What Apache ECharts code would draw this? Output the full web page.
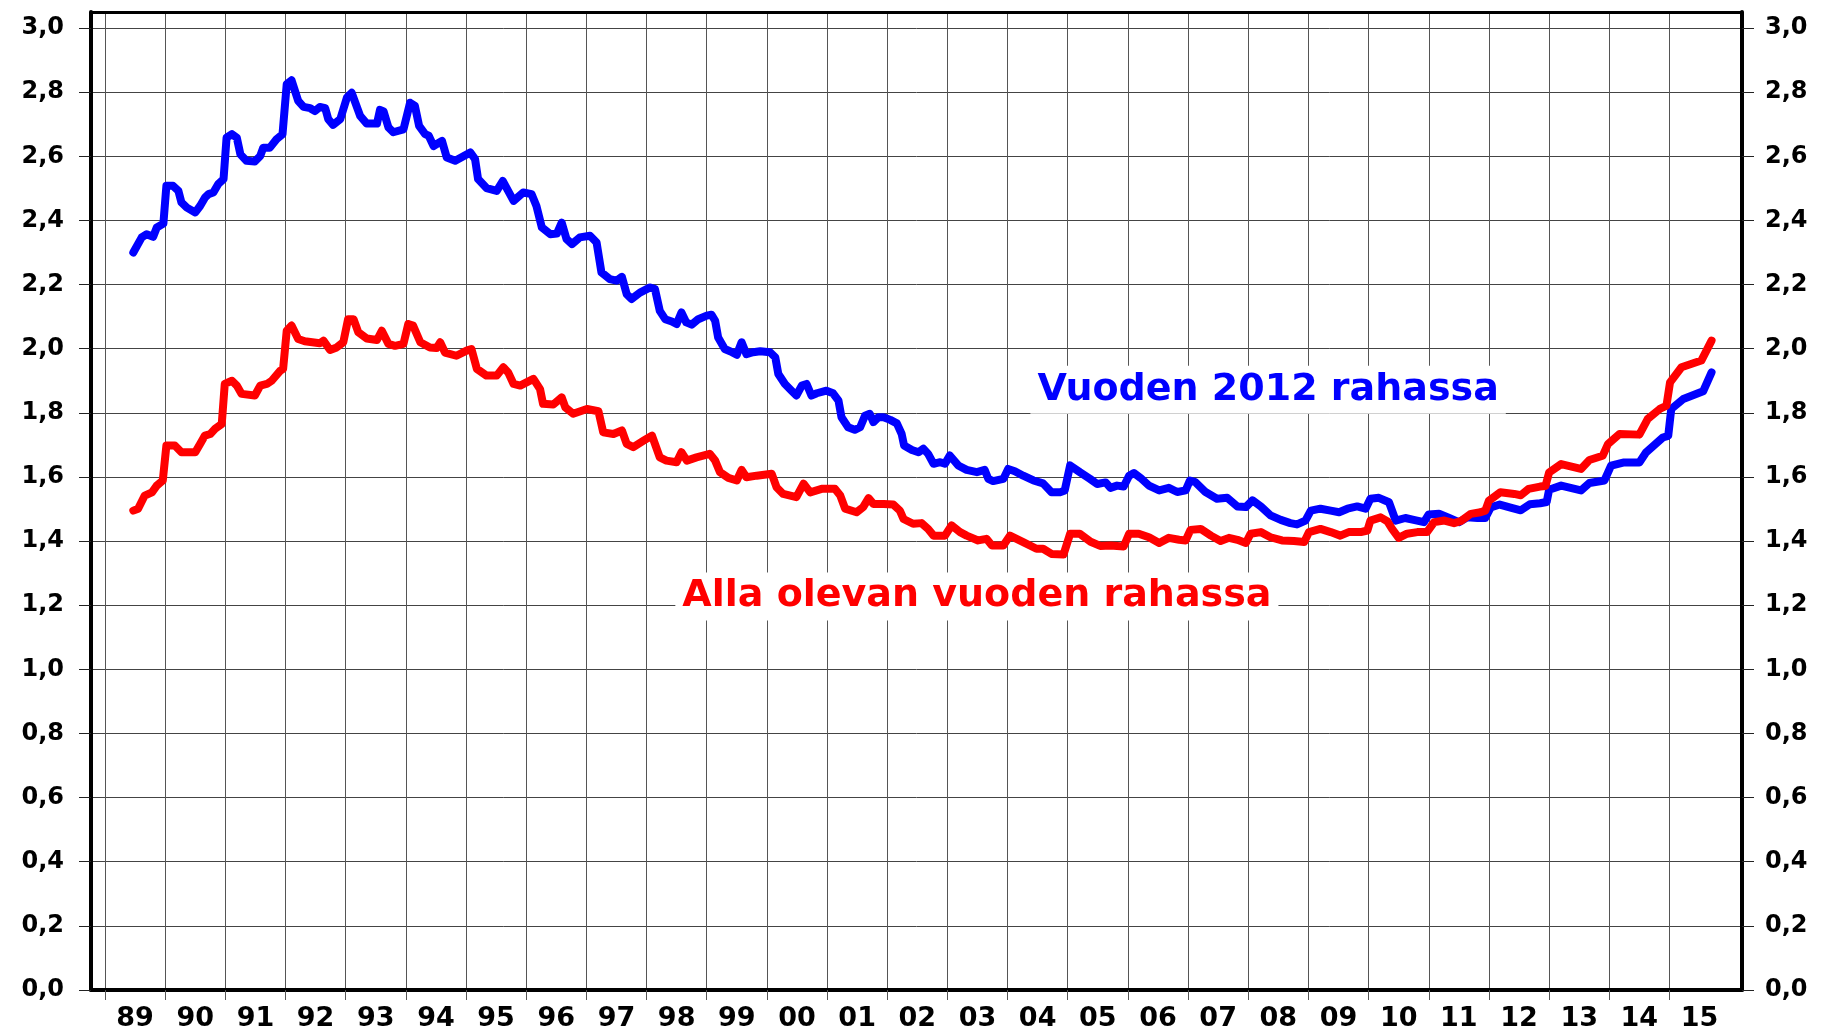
<!DOCTYPE html>
<html><head><meta charset="utf-8">
<script src="https://cdn.jsdelivr.net/npm/echarts@6/dist/echarts.min.js"></script>
<style>html,body{margin:0;padding:0;background:#fff}#c{width:1824px;height:1033px}</style>
</head><body><div id="c"></div>
<script>
// ---------- DATA ----------
const yearStarts = [1989,1990,1991,1992,1993,1994,1995,1996,1997,1998,1999,2000,2001,2002,2003,2004,2005,2006,2007,2008,2009,2010,2011,2012,2013,2014,2015];
const yearLabels = ['89','90','91','92','93','94','95','96','97','98','99','00','01','02','03','04','05','06','07','08','09','10','11','12','13','14','15'];
const yTickValues = [0,0.2,0.4,0.6,0.8,1.0,1.2,1.4,1.6,1.8,2.0,2.2,2.4,2.6,2.8,3.0];

const blueName = 'Vuoden 2012 rahassa';
const redName = 'Alla olevan vuoden rahassa';

// decimal years
const blueX = [1989.47,1989.61,1989.69,1989.80,1989.86,1989.97,1990.02,1990.13,1990.22,1990.27,1990.36,1990.50,1990.58,1990.66,1990.72,1990.80,1990.88,1990.97,
1991.02,1991.11,1991.19,1991.25,1991.35,1991.49,1991.58,1991.63,1991.74,1991.85,1991.95,1992.02,1992.10,1992.21,1992.30,1992.41,1992.49,1992.57,1992.66,1992.71,1992.79,1992.91,
1993.02,1993.10,1993.24,1993.35,1993.52,1993.57,1993.63,1993.71,1993.79,1993.96,1994.07,1994.15,1994.22,1994.32,1994.38,1994.46,1994.60,1994.68,1994.82,
1995.07,1995.15,1995.20,1995.34,1995.51,1995.61,1995.70,1995.79,1995.95,1996.09,1996.17,1996.26,1996.40,1996.51,1996.59,1996.67,1996.76,1996.89,
1997.06,1997.17,1997.25,1997.39,1997.50,1997.59,1997.67,1997.75,1997.89,1998.06,1998.14,1998.22,1998.31,1998.42,1998.50,1998.58,1998.66,1998.75,1998.86,
1999.00,1999.08,1999.14,1999.19,1999.30,1999.42,1999.50,1999.58,1999.66,1999.77,1999.89,2000.05,2000.14,2000.19,2000.30,2000.41,2000.49,2000.58,2000.66,2000.74,2000.83,2000.99,
2001.10,2001.19,2001.24,2001.35,2001.46,2001.55,2001.63,2001.71,2001.77,2001.85,2001.94,2002.05,2002.16,2002.24,2002.28,2002.41,2002.52,2002.60,2002.68,2002.77,2002.88,2002.96,
2003.04,2003.18,2003.32,2003.49,2003.62,2003.68,2003.76,2003.93,2004.01,2004.12,2004.26,2004.43,2004.59,2004.73,2004.87,2004.95,
2005.04,2005.20,2005.37,2005.49,2005.63,2005.71,2005.82,2005.93,2006.02,2006.10,2006.21,2006.35,2006.52,2006.68,2006.82,2006.96,
2007.03,2007.12,2007.29,2007.48,2007.65,2007.82,2007.96,2008.07,2008.21,2008.37,2008.54,2008.70,2008.81,2008.95,
2009.04,2009.20,2009.37,2009.51,2009.65,2009.81,2009.95,2010.03,2010.17,2010.34,2010.39,2010.45,2010.61,2010.75,2010.92,
2011.00,2011.17,2011.34,2011.50,2011.64,2011.81,2011.94,2012.03,2012.18,2012.39,2012.53,2012.68,2012.85,2012.96,
2013.00,2013.20,2013.53,2013.67,2013.92,2014.03,2014.23,2014.50,2014.61,2014.89,2014.98,2015.03,2015.23,2015.56,2015.70];
const blueY = [2.300,2.347,2.357,2.349,2.378,2.390,2.508,2.508,2.492,2.456,2.440,2.425,2.445,2.471,2.482,2.487,2.513,2.529,
2.658,2.669,2.658,2.606,2.586,2.584,2.601,2.627,2.627,2.653,2.669,2.825,2.837,2.773,2.754,2.750,2.741,2.754,2.750,2.716,2.698,2.716,
2.783,2.798,2.726,2.702,2.702,2.745,2.740,2.690,2.675,2.684,2.767,2.757,2.695,2.669,2.664,2.632,2.648,2.596,2.586,
2.612,2.591,2.529,2.501,2.492,2.523,2.492,2.461,2.487,2.482,2.445,2.378,2.357,2.359,2.393,2.342,2.326,2.347,
2.352,2.331,2.238,2.217,2.212,2.224,2.170,2.155,2.175,2.191,2.186,2.118,2.092,2.085,2.077,2.113,2.082,2.075,2.092,
2.103,2.106,2.087,2.035,1.999,1.989,1.981,2.020,1.983,1.989,1.992,1.989,1.973,1.921,1.890,1.869,1.854,1.885,1.890,1.854,1.861,1.869,
1.861,1.838,1.786,1.755,1.747,1.755,1.791,1.797,1.771,1.786,1.786,1.778,1.767,1.734,1.698,1.684,1.677,1.688,1.672,1.641,1.646,1.641,
1.667,1.636,1.622,1.615,1.622,1.594,1.587,1.594,1.625,1.618,1.604,1.589,1.580,1.552,1.552,1.558,
1.636,1.615,1.594,1.578,1.583,1.566,1.573,1.570,1.604,1.612,1.597,1.573,1.558,1.566,1.553,1.558,
1.589,1.584,1.553,1.532,1.535,1.508,1.506,1.527,1.508,1.480,1.466,1.456,1.452,1.464,
1.495,1.501,1.495,1.490,1.501,1.508,1.501,1.532,1.535,1.521,1.495,1.464,1.472,1.466,1.459,
1.483,1.485,1.472,1.459,1.474,1.472,1.472,1.505,1.514,1.503,1.496,1.515,1.518,1.522,
1.560,1.573,1.558,1.581,1.589,1.635,1.645,1.645,1.676,1.723,1.728,1.812,1.843,1.867,1.926];

const redX = [1989.47,1989.55,1989.66,1989.78,1989.86,1989.96,1990.02,1990.16,1990.27,1990.50,1990.58,1990.66,1990.75,1990.83,1990.94,
1990.99,1991.11,1991.19,1991.27,1991.49,1991.58,1991.69,1991.77,1991.91,1991.96,1992.02,1992.10,1992.21,1992.32,1992.57,1992.63,1992.74,1992.85,1992.96,
1993.04,1993.13,1993.21,1993.35,1993.52,1993.60,1993.71,1993.82,1993.96,1994.04,1994.12,1994.24,1994.40,1994.51,1994.57,1994.65,1994.84,
1995.01,1995.09,1995.18,1995.34,1995.51,1995.62,1995.70,1995.79,1995.90,1996.12,1996.23,1996.28,1996.45,1996.59,1996.65,1996.78,
1997.01,1997.20,1997.28,1997.45,1997.59,1997.67,1997.78,1997.95,1998.09,1998.22,1998.33,1998.50,1998.58,1998.67,1998.83,
1999.05,1999.14,1999.22,1999.36,1999.50,1999.58,1999.66,1999.83,2000.08,2000.16,2000.27,2000.49,2000.61,2000.72,2000.91,
2001.13,2001.22,2001.30,2001.49,2001.60,2001.69,2001.77,2001.94,2002.10,2002.21,2002.27,2002.43,2002.57,2002.68,2002.77,2002.96,
2003.07,2003.21,2003.32,2003.51,2003.65,2003.74,2003.93,2004.04,2004.26,2004.48,2004.59,2004.73,2004.93,
2005.04,2005.20,2005.38,2005.54,2005.71,2005.93,2006.02,2006.18,2006.35,2006.52,2006.68,2006.85,2006.96,
2007.04,2007.21,2007.38,2007.54,2007.68,2007.82,2007.96,2008.04,2008.21,2008.37,2008.56,2008.76,2008.93,
2009.01,2009.20,2009.37,2009.53,2009.67,2009.87,2009.98,2010.03,2010.20,2010.31,2010.39,2010.50,2010.64,2010.81,2010.97,
2011.09,2011.26,2011.42,2011.53,2011.70,2011.86,2011.94,2012.00,2012.19,2012.42,2012.53,2012.66,2012.85,2012.94,
2013.00,2013.20,2013.53,2013.67,2013.89,2013.98,2014.17,2014.50,2014.64,2014.84,2014.95,2015.01,2015.20,2015.53,2015.70];
const redY = [1.495,1.501,1.542,1.552,1.573,1.589,1.698,1.698,1.677,1.677,1.703,1.729,1.734,1.750,1.765,
1.890,1.900,1.885,1.859,1.854,1.885,1.890,1.900,1.931,1.937,2.056,2.072,2.030,2.023,2.017,2.025,1.996,2.004,2.020,
2.092,2.092,2.051,2.032,2.027,2.056,2.015,2.009,2.015,2.077,2.072,2.020,2.004,2.002,2.020,1.988,1.978,
1.994,1.999,1.937,1.916,1.916,1.942,1.926,1.890,1.885,1.906,1.874,1.828,1.826,1.848,1.817,1.797,
1.812,1.805,1.739,1.734,1.745,1.703,1.693,1.713,1.729,1.661,1.651,1.646,1.677,1.651,1.661,
1.672,1.651,1.615,1.597,1.589,1.622,1.599,1.604,1.610,1.568,1.547,1.537,1.579,1.552,1.563,
1.563,1.542,1.501,1.490,1.506,1.534,1.516,1.516,1.514,1.495,1.469,1.454,1.456,1.438,1.417,1.417,
1.449,1.428,1.417,1.402,1.407,1.386,1.386,1.417,1.397,1.376,1.376,1.360,1.358,
1.423,1.423,1.398,1.385,1.386,1.383,1.423,1.423,1.412,1.394,1.410,1.404,1.402,
1.435,1.438,1.417,1.400,1.410,1.404,1.394,1.423,1.428,1.412,1.402,1.400,1.397,
1.428,1.438,1.428,1.417,1.428,1.428,1.433,1.464,1.474,1.462,1.438,1.410,1.423,1.428,1.428,
1.459,1.464,1.456,1.462,1.485,1.490,1.495,1.526,1.552,1.547,1.543,1.563,1.570,1.572,
1.614,1.640,1.625,1.653,1.666,1.703,1.734,1.732,1.781,1.812,1.822,1.895,1.942,1.963,2.025];

// annotation anchor points (data coordinates)
const blueLabelAt = [2008.33, 1.872];
const redLabelAt = [2003.49, 1.227];

// ---------- CHART ----------
const FONT = 'DejaVu Sans';
const xMin = 1988.767, xMax = 2016.206;
const chart = echarts.init(document.getElementById('c'), null, {renderer: 'canvas'});

function pairs(xs, ys) { return xs.map((x, i) => [x, ys[i]]); }
function annot(text, at, color) {
  return {
    symbol: 'rect', symbolSize: [1, 1], silent: true,
    itemStyle: {color: 'rgba(0,0,0,0)'},
    label: {
      show: true, position: 'inside', formatter: text,
      fontFamily: FONT, fontSize: 38, fontWeight: 'bold', color: color,
      backgroundColor: '#ffffff', padding: [0, 7], lineHeight: 48
    },
    data: [{coord: at}]
  };
}
const yFmt = v => v.toFixed(1).replace('.', ',');

chart.setOption({
  animation: false,
  backgroundColor: '#ffffff',
  grid: {left: 91, right: 82, top: 12, bottom: 43, containLabel: false},
  xAxis: [{
    type: 'value', min: xMin, max: xMax, position: 'bottom',
    axisLine: {show: true, onZero: false, lineStyle: {color: '#000', width: 4}},
    axisTick: {show: true, customValues: yearStarts, length: 10, lineStyle: {color: '#555', width: 1}},
    axisLabel: {
      customValues: yearStarts.map(y => y + 0.5),
      formatter: v => yearLabels[yearStarts.indexOf(Math.floor(v))],
      fontFamily: FONT, fontSize: 27, fontWeight: 'bold', color: '#000', margin: 15
    },
    splitLine: {show: true, lineStyle: {color: '#555', width: 1}}
  }, {
    type: 'value', min: xMin, max: xMax, position: 'top',
    axisLine: {show: true, onZero: false, lineStyle: {color: '#000', width: 3}},
    axisTick: {show: false}, axisLabel: {show: false}, splitLine: {show: false}
  }],
  yAxis: [{
    type: 'value', min: 0, max: 3.05, position: 'left',
    axisLine: {show: true, onZero: false, lineStyle: {color: '#000', width: 4}},
    axisTick: {show: true, customValues: yTickValues, length: 12, lineStyle: {color: '#222', width: 1}},
    axisLabel: {customValues: yTickValues, formatter: yFmt, fontFamily: FONT, fontSize: 24, fontWeight: 'bold', color: '#000', margin: 27},
    splitLine: {show: true, lineStyle: {color: '#444', width: 1}}
  }, {
    type: 'value', min: 0, max: 3.05, position: 'right',
    axisLine: {show: true, onZero: false, lineStyle: {color: '#000', width: 4}},
    axisTick: {show: true, customValues: yTickValues, length: 12, lineStyle: {color: '#222', width: 1}},
    axisLabel: {customValues: yTickValues, formatter: yFmt, fontFamily: FONT, fontSize: 24, fontWeight: 'bold', color: '#000', margin: 23},
    splitLine: {show: false}
  }],
  series: [{
    name: blueName, type: 'line', xAxisIndex: 0, yAxisIndex: 0,
    data: pairs(blueX, blueY), showSymbol: false, symbol: 'none',
    lineStyle: {color: '#0000ff', width: 8, cap: 'round', join: 'round'},
    markPoint: annot(blueName, blueLabelAt, '#0000ff'), z: 3
  }, {
    name: redName, type: 'line', xAxisIndex: 0, yAxisIndex: 0,
    data: pairs(redX, redY), showSymbol: false, symbol: 'none',
    lineStyle: {color: '#ff0000', width: 8, cap: 'round', join: 'round'},
    markPoint: annot(redName, redLabelAt, '#ff0000'), z: 4
  }]
});
</script>
</body></html>
